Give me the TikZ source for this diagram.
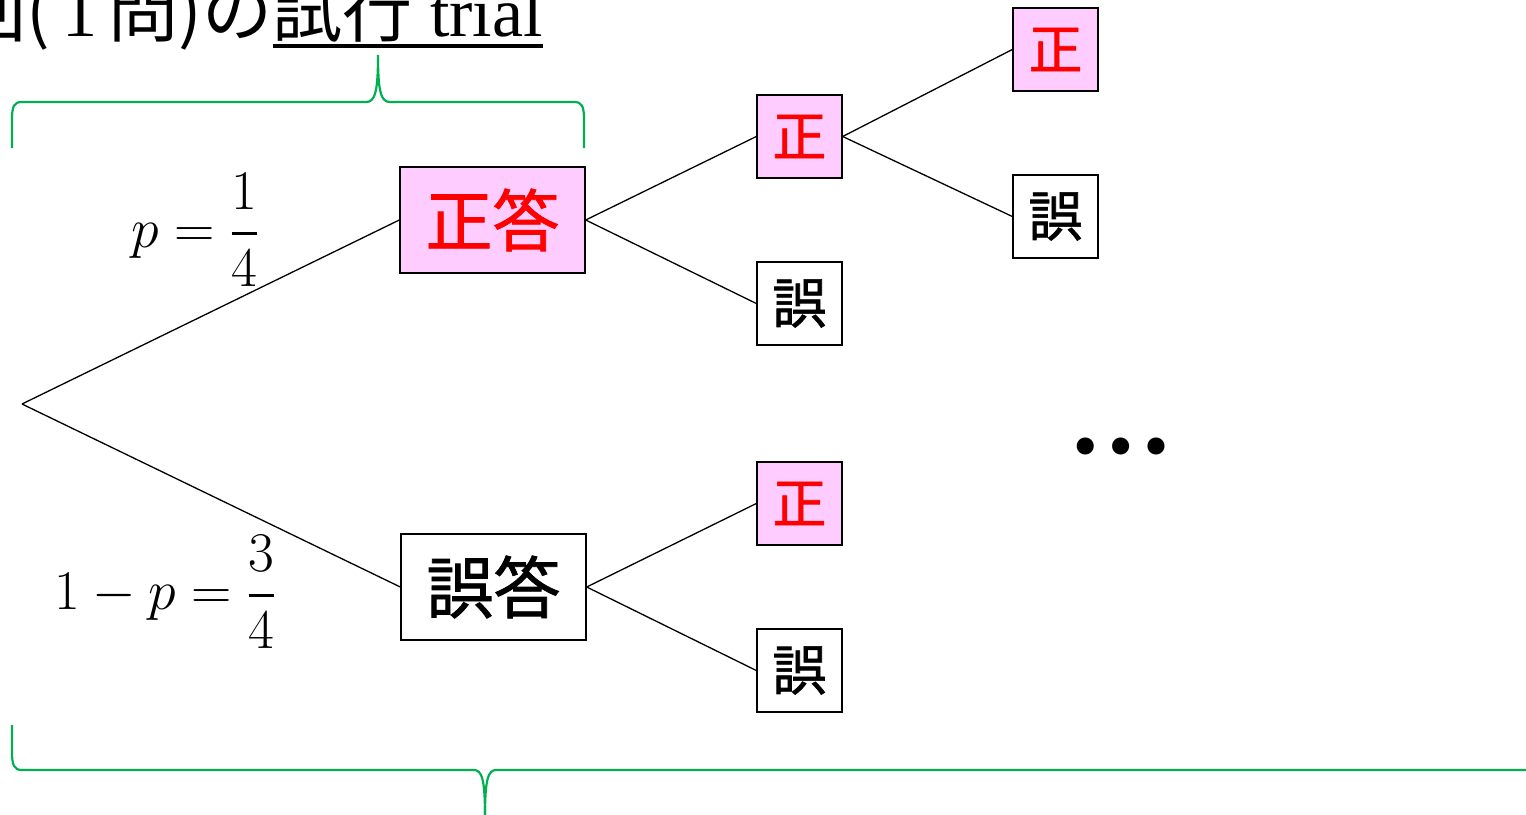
\RequirePackage{fix-cm}
\documentclass[tikz,border=0pt]{standalone}
\usepackage{amsmath}
\usepackage{fontspec}
\setmainfont{Liberation Serif}
\newfontfamily\jp{Noto Sans CJK JP}
\newfontfamily\jpb[FakeBold=1.2]{Noto Sans CJK JP}
\definecolor{pinkfill}{HTML}{FFCCFF}
\definecolor{bracegreen}{HTML}{00B050}
\newcommand{\thickul}[1]{{\setbox0\hbox{#1}\rlap{\rule[-12pt]{\wd0}{4pt}}\box0}}
\newcommand{\thickfrac}[2]{\genfrac{}{}{2.6pt}{0}{#1}{#2}}
\begin{document}
\begin{tikzpicture}[x=1pt,y=-1pt,
  bigbox/.style={draw=black,line width=1.4pt,minimum width=185pt,minimum height=106pt,inner sep=0pt,font=\jpb\fontsize{67}{70}\selectfont},
  smallbox/.style={draw=black,line width=1.4pt,minimum width=85pt,minimum height=83pt,inner sep=0pt,font=\jpb\fontsize{54}{56}\selectfont},
  right/.style={fill=pinkfill,text=red},
  wrong/.style={fill=white,text=black},
  branch/.style={draw=black,line width=1.3pt},
  brace/.style={draw=bracegreen,line width=2.2pt},
  mathlbl/.style={inner sep=0pt,font=\fontsize{56}{60}\selectfont}]
\useasboundingbox (0,0) rectangle (1526,814);
\clip (0,0) rectangle (1526,814);

% title
\node[anchor=base east,inner sep=0pt,font=\fontsize{70}{76}\selectfont] (title) at (543,36)
  {{\jp 1回(\,}1{\jp \,問)の}\thickul{{\jp 試行} trial}};

% tree
\coordinate (root) at (22,404);
\node[bigbox,right] (A) at (492.5,220) {正答};
\node[bigbox,wrong] (B) at (493.5,587) {誤答};
\node[smallbox,right] (C1) at (799.5,136.5) {正};
\node[smallbox,wrong] (C2) at (799.5,303.5) {誤};
\node[smallbox,right] (C3) at (799.5,503.5) {正};
\node[smallbox,wrong] (C4) at (799.5,670.5) {誤};
\node[smallbox,right] (D1) at (1055.5,49.5) {正};
\node[smallbox,wrong] (D2) at (1055.5,216.5) {誤};

\draw[branch] (root) -- (A.west);
\draw[branch] (root) -- (B.west);
\draw[branch] (A.east) -- (C1.west);
\draw[branch] (A.east) -- (C2.west);
\draw[branch] (B.east) -- (C3.west);
\draw[branch] (B.east) -- (C4.west);
\draw[branch] (C1.east) -- (D1.west);
\draw[branch] (C1.east) -- (D2.west);

% probability labels
\node[mathlbl] (pl) at (195,230) {$p=\thickfrac{1}{4}$};
\node[mathlbl] (ql) at (165,592) {$1-p=\thickfrac{3}{4}$};

% dots
\node[anchor=base,inner sep=0pt,font=\bfseries\fontsize{105}{110}\selectfont] (dots) at (1121,453) {…};

% braces
\draw[brace] (12,148) -- (12,120) .. controls (12,106) and (14,102) .. (22,102)
  -- (366,102) .. controls (375,102) and (378,92) .. (378,55)
  .. controls (378,92) and (381,102) .. (390,102)
  -- (574,102) .. controls (582,102) and (584,106) .. (584,120) -- (584,148);
\draw[brace] (12,725) -- (12,752) .. controls (12,765) and (14,770) .. (22,770)
  -- (474,770) .. controls (482,770) and (485,780) .. (485,816);
\draw[brace] (485,816) .. controls (485,780) and (488,770) .. (496,770) -- (1530,770);
\end{tikzpicture}
\end{document}
